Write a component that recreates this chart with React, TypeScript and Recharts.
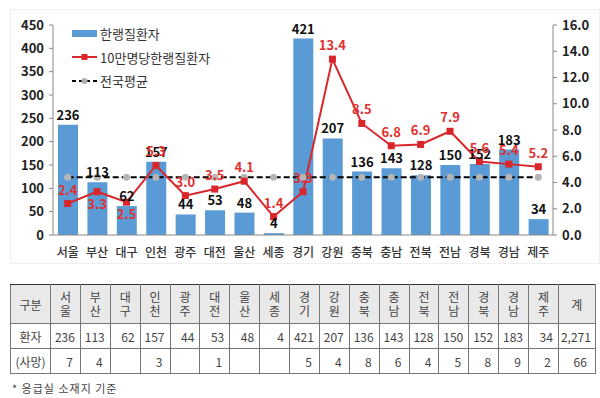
import React from 'react'
import {
  ComposedChart,
  Bar,
  Line,
  XAxis,
  YAxis,
  LabelList,
} from 'recharts'

// 시도별 한랭질환자 (응급실 소재지 기준)
const regions = ['서울', '부산', '대구', '인천', '광주', '대전', '울산', '세종', '경기', '강원', '충북', '충남', '전북', '전남', '경북', '경남', '제주']
const patients = [236, 113, 62, 157, 44, 53, 48, 4, 421, 207, 136, 143, 128, 150, 152, 183, 34]
const ratePer100k = [2.4, 3.3, 2.5, 5.3, 3.0, 3.5, 4.1, 1.4, 3.3, 13.4, 8.5, 6.8, 6.9, 7.9, 5.6, 5.4, 5.2]
const nationalAvg = [4.4, 4.4, 4.4, 4.4, 4.4, 4.4, 4.4, 4.4, 4.4, 4.4, 4.4, 4.4, 4.4, 4.4, 4.4, 4.4, 4.4]
const deaths = ['7', '4', '', '3', '', '1', '', '', '5', '4', '8', '6', '4', '5', '8', '9', '2']
const totalPatients = '2,271'
const totalDeaths = '66'

const leftTicks = [0, 50, 100, 150, 200, 250, 300, 350, 400, 450]
const rightTicks = [0, 2, 4, 6, 8, 10, 12, 14, 16]

const data = regions.map((name, i) => ({
  name,
  patients: patients[i],
  rate: ratePer100k[i],
  avg: nationalAvg[i],
}))

const BLUE = '#5B9BD5'
const RED = '#D9262B'
const FONT = '"Noto Sans CJK KR", "Noto Sans", sans-serif'

// labels that sit under the point instead of above
const belowLabels = ['부산', '대구']

const SquareDot = (props: any) => {
  const { cx, cy } = props
  if (cx == null || cy == null) return null
  return <rect x={cx - 3.5} y={cy - 3.5} width={7} height={7} fill={RED} />
}

const RateLabel = (props: any) => {
  const { x, y, value, index } = props
  const below = belowLabels.includes(regions[index])
  return (
    <text
      x={x}
      y={below ? y + 17 : y - 9}
      textAnchor="middle"
      fill="#E0312F"
      fontSize={13}
      fontWeight={700}
      fontFamily={FONT}
    >
      {Number(value).toFixed(1)}
    </text>
  )
}

const CategoryTick = (props: any) => {
  const { x, y, payload } = props
  return (
    <text x={x} y={y + 14} textAnchor="middle" fill="#333" fontSize={12} fontWeight={500} fontFamily={FONT}>
      {payload.value}
    </text>
  )
}

const ChartLegend = () => (
  <div style={{ fontFamily: FONT, fontSize: 13, color: '#333', lineHeight: '23.5px' }}>
    <div style={{ display: 'flex', alignItems: 'center' }}>
      <span style={{ display: 'inline-block', width: 25, height: 7, background: BLUE, marginRight: 3 }} />
      한랭질환자
    </div>
    <div style={{ display: 'flex', alignItems: 'center' }}>
      <svg width={25} height={8} style={{ marginRight: 3 }}>
        <line x1={0} y1={4} x2={25} y2={4} stroke={RED} strokeWidth={2} />
        <rect x={9.5} y={1} width={6} height={6} fill={RED} />
      </svg>
      10만명당한랭질환자
    </div>
    <div style={{ display: 'flex', alignItems: 'center' }}>
      <svg width={25} height={8} style={{ marginRight: 3 }}>
        <line x1={0} y1={4} x2={25} y2={4} stroke="#000" strokeWidth={2} strokeDasharray="4 3" />
        <circle cx={12.5} cy={4} r={3} fill="#b0b0b0" />
      </svg>
      전국평균
    </div>
  </div>
)

const colWidths = [40, ...regions.map(() => 29.88), 37]

const cell: React.CSSProperties = {
  border: '1px solid #777',
  padding: 0,
  fontSize: 12,
  color: '#444',
}

const RegionTable = () => (
  <table
    style={{
      position: 'absolute',
      left: 10,
      top: 284,
      width: 585,
      borderCollapse: 'collapse',
      tableLayout: 'fixed',
      fontFamily: FONT,
    }}
  >
    <colgroup>
      {colWidths.map((w, i) => (
        <col key={i} style={{ width: w }} />
      ))}
    </colgroup>
    <tbody>
      <tr style={{ height: 39, background: '#e9e9e9' }}>
        <td style={{ ...cell, textAlign: 'center', borderTop: '1.5px solid #333' }}>구분</td>
        {regions.map((r) => (
          <td key={r} style={{ ...cell, textAlign: 'center', lineHeight: '14px', borderTop: '1.5px solid #333' }}>
            {r[0]}
            <br />
            {r[1]}
          </td>
        ))}
        <td style={{ ...cell, textAlign: 'center', borderTop: '1.5px solid #333' }}>계</td>
      </tr>
      <tr style={{ height: 25 }}>
        <td style={{ ...cell, textAlign: 'center' }}>환자</td>
        {patients.map((p, i) => (
          <td key={i} style={{ ...cell, textAlign: 'right', paddingRight: 5 }}>
            {p}
          </td>
        ))}
        <td style={{ ...cell, textAlign: 'right', paddingRight: 4 }}>{totalPatients}</td>
      </tr>
      <tr style={{ height: 25 }}>
        <td style={{ ...cell, textAlign: 'center' }}>(사망)</td>
        {deaths.map((d, i) => (
          <td key={i} style={{ ...cell, textAlign: 'right', paddingRight: 7 }}>
            {d}
          </td>
        ))}
        <td style={{ ...cell, textAlign: 'right', paddingRight: 8 }}>{totalDeaths}</td>
      </tr>
    </tbody>
  </table>
)

export default function App() {
  return (
    <div
      style={{
        position: 'absolute',
        left: 0,
        top: 0,
        width: 600,
        height: 398,
        background: '#fff',
        overflow: 'hidden',
      }}
    >
      <div
        style={{
          position: 'absolute',
          left: 10,
          top: 9,
          width: 588,
          height: 253,
          border: '1px solid #efefef',
        }}
      />
      <div style={{ position: 'absolute', left: 0, top: 0 }}>
        <ComposedChart width={600} height={262} data={data} margin={{ top: 25, right: 0, left: 0, bottom: 0 }}>
          <XAxis
            dataKey="name"
            interval={0}
            tickLine={false}
            axisLine={{ stroke: '#888' }}
            height={27}
            tick={<CategoryTick />}
          />
          <YAxis
            yAxisId="left"
            width={53}
            domain={[0, 450]}
            ticks={leftTicks}
            tickSize={4}
            tickMargin={5}
            axisLine={{ stroke: '#888' }}
            tickLine={{ stroke: '#888' }}
            tick={{ fill: '#222', fontSize: 13, fontWeight: 700, fontFamily: FONT }}
          />
          <YAxis
            yAxisId="right"
            orientation="right"
            width={47}
            domain={[0, 16]}
            ticks={rightTicks}
            tickSize={4}
            tickMargin={5}
            tickFormatter={(v: number) => v.toFixed(1)}
            axisLine={{ stroke: '#888' }}
            tickLine={{ stroke: '#888' }}
            tick={{ fill: '#222', fontSize: 13, fontWeight: 700, fontFamily: FONT }}
          />
          <Bar yAxisId="left" dataKey="patients" fill={BLUE} barSize={20} isAnimationActive={false}>
            <LabelList
              dataKey="patients"
              position="top"
              offset={5}
              fill="#111"
              fontSize={13}
              fontWeight={700}
              fontFamily={FONT}
            />
          </Bar>
          <Line
            yAxisId="right"
            dataKey="avg"
            type="linear"
            stroke="#000"
            strokeWidth={2}
            strokeDasharray="6 3"
            dot={{ r: 3.5, fill: '#b5b5b5', stroke: 'none' }}
            activeDot={false}
            isAnimationActive={false}
          />
          <Line
            yAxisId="right"
            dataKey="rate"
            type="linear"
            stroke={RED}
            strokeWidth={2}
            dot={<SquareDot />}
            activeDot={false}
            isAnimationActive={false}
          >
            <LabelList dataKey="rate" content={<RateLabel />} />
          </Line>
        </ComposedChart>
      </div>
      <div style={{ position: 'absolute', left: 72, top: 22 }}>
        <ChartLegend />
      </div>
      <RegionTable />
      <div
        style={{
          position: 'absolute',
          left: 12,
          top: 380,
          fontFamily: FONT,
          fontSize: 11,
          color: '#444',
          letterSpacing: 1,
        }}
      >
        * 응급실 소재지 기준
      </div>
    </div>
  )
}
